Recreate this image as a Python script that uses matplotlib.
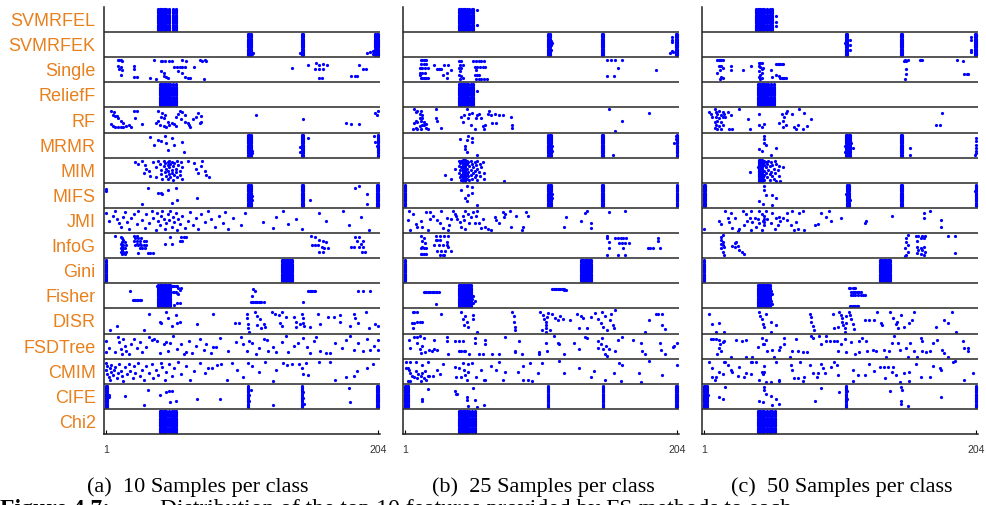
import matplotlib.pyplot as plt

methods = ["SVMRFEL", "SVMRFEK", "Single", "ReliefF", "RF", "MRMR", "MIM", "MIFS", "JMI",
           "InfoG", "Gini", "Fisher", "DISR", "FSDTree", "CMIM", "CIFE", "Chi2"]
n_runs = 20
n_features = 204
captions = ["(a)  10 Samples per class", "(b)  25 Samples per class", "(c)  50 Samples per class"]

# features picked in every run, per method
dense_10 = {
    "SVMRFEL": [40, 41, 42, 43, 44, 45, 46, 48, 51, 53],
    "SVMRFEK": [107, 108, 109, 147, 148, 202, 203, 204],
    "ReliefF": [41, 42, 43, 44, 45, 46, 47, 49, 51, 53],
    "MRMR": [107, 108, 109, 147, 148, 204],
    "MIFS": [107, 108, 109, 147, 148, 203, 204],
    "Gini": [1, 132, 133, 134, 135, 136, 137, 138, 139, 140],
    "Fisher": [40, 41, 42, 43, 44, 45, 46, 47, 48, 49],
    "CIFE": [1, 2, 107, 147, 203, 204],
    "Chi2": [41, 42, 43, 44, 45, 46, 48, 50, 52, 53],
}
dense_25 = {
    "SVMRFEL": [41, 42, 43, 44, 45, 46, 47, 49, 51, 52],
    "SVMRFEK": [108, 109, 148, 149, 203, 204],
    "ReliefF": [41, 42, 43, 44, 45, 46, 47, 48, 50, 52],
    "MRMR": [108, 109, 110, 148, 149, 204],
    "MIM": [44, 45, 46],
    "MIFS": [1, 108, 109, 110, 148, 149, 204],
    "Gini": [1, 132, 133, 134, 135, 136, 137, 138, 139, 140],
    "Fisher": [41, 42, 43, 44, 45, 46, 47, 48, 49, 50],
    "CIFE": [1, 2, 3, 108, 149, 203, 204],
    "Chi2": [41, 42, 43, 44, 45, 46, 47, 49, 51, 53],
}
dense_50 = {
    "SVMRFEL": [40, 41, 42, 43, 44, 45, 46, 48, 50, 52],
    "SVMRFEK": [107, 108, 148, 149, 203, 204],
    "ReliefF": [41, 42, 43, 44, 45, 46, 47, 49, 51, 53],
    "MRMR": [107, 108, 109, 110, 148, 149],
    "MIM": [42, 43, 44],
    "MIFS": [1, 2, 108, 109, 148, 149, 204],
    "Gini": [1, 132, 133, 134, 135, 136, 137, 138, 139, 140],
    "Fisher": [41, 42, 43, 44, 45, 46, 47, 48, 49, 50],
    "CIFE": [1, 2, 3, 107, 204],
    "Chi2": [41, 42, 43, 44, 45, 46, 48, 50, 52, 54],
}

# other (feature, run) picks
pts_10 = {
    "SVMRFEK": [(111, 3), (109, 2), (110, 2), (147, 2), (146, 3), (196, 3), (198, 4), (200, 5), (201, 3), (200, 2)],
    "Single": [(10, 19), (11, 19), (12, 19), (13, 18), (10, 14), (12, 13), (11, 11), (13, 10), (12, 6), (22, 14),
               (22, 11), (22, 4), (24, 4), (34, 3), (38, 2), (37, 19), (42, 18), (43, 18), (45, 18), (48, 18),
               (50, 18), (52, 13), (54, 13), (56, 13), (58, 13), (60, 13), (42, 9), (44, 8), (44, 5), (46, 4),
               (47, 3), (55, 9), (58, 8), (60, 4), (62, 3), (64, 3), (58, 19), (61, 18), (67, 13), (71, 19),
               (75, 19), (73, 18), (76, 18), (74, 2), (140, 12), (152, 15), (158, 17), (160, 15), (163, 16),
               (166, 15), (157, 11), (160, 11), (163, 11), (160, 3), (162, 3), (190, 15), (193, 11), (195, 11),
               (184, 5), (187, 5), (188, 5)],
    "RF": [(5, 19), (7, 18), (6, 15), (8, 14), (9, 14), (10, 12), (12, 10), (14, 8), (5, 7), (6, 5), (8, 4),
           (10, 4), (12, 4), (14, 4), (16, 5), (18, 6), (20, 4), (22, 19), (24, 19), (23, 12), (28, 7), (40, 19),
           (43, 17), (45, 15), (42, 13), (40, 10), (44, 12), (47, 9), (38, 8), (41, 6), (44, 5), (46, 4), (50, 8),
           (52, 7), (53, 5), (48, 6), (53, 13), (55, 16), (56, 19), (58, 18), (60, 15), (57, 11), (60, 9), (62, 8),
           (63, 6), (64, 4), (66, 11), (68, 13), (70, 17), (72, 14), (72, 9), (71, 8), (113, 15), (148, 11),
           (180, 8), (184, 7), (190, 7), (202, 17), (203, 15), (204, 19)],
    "MRMR": [(34, 18), (37, 11), (40, 15), (42, 14), (45, 19), (46, 12), (50, 17), (47, 6), (52, 11), (58, 13),
             (59, 4), (152, 17), (201, 19), (202, 13), (203, 10), (110, 3), (110, 5), (146, 4), (146, 9)],
    "MIM": [(23, 18), (25, 16), (28, 19), (30, 15), (31, 12), (29, 8), (33, 10), (34, 5), (36, 18), (38, 13),
            (38, 4), (40, 19), (41, 16), (42, 11), (42, 7), (43, 3), (44, 19), (44, 14), (45, 17), (45, 9),
            (46, 12), (46, 5), (47, 18), (47, 15), (47, 10), (47, 3), (48, 19), (48, 13), (48, 7), (49, 16),
            (49, 4), (50, 18), (50, 11), (50, 8), (51, 14), (51, 2), (52, 17), (52, 6), (53, 12), (53, 9),
            (54, 19), (54, 4), (55, 15), (56, 10), (56, 6), (57, 18), (58, 13), (58, 3), (62, 19), (67, 17),
            (68, 12), (70, 8), (72, 14), (73, 19), (75, 10), (76, 6), (78, 4)],
    "MIFS": [(1, 16), (1, 14), (32, 17), (40, 13), (42, 13), (43, 12), (47, 15), (50, 4), (54, 6), (53, 17),
             (28, 3), (69, 8), (153, 6), (187, 17), (190, 19), (196, 12), (196, 3), (110, 10), (110, 6)],
    "JMI": [(1, 17), (3, 10), (6, 15), (8, 19), (9, 12), (11, 8), (12, 5), (14, 14), (15, 18), (17, 9), (18, 3),
            (20, 13), (22, 16), (24, 7), (25, 19), (28, 11), (30, 4), (31, 16), (33, 8), (35, 19), (36, 13),
            (38, 2), (39, 17), (40, 10), (41, 6), (42, 15), (43, 19), (44, 12), (45, 3), (46, 8), (47, 16),
            (48, 11), (49, 19), (50, 5), (51, 14), (52, 9), (53, 17), (54, 2), (55, 12), (56, 7), (58, 15),
            (60, 4), (62, 10), (64, 18), (66, 6), (68, 13), (70, 3), (72, 16), (75, 9), (77, 19), (79, 12),
            (82, 5), (85, 15), (88, 8), (90, 18), (92, 3), (96, 13), (102, 6), (105, 17), (118, 9), (126, 4),
            (128, 14), (133, 19), (137, 7), (143, 12), (147, 3), (160, 17), (165, 10), (178, 19), (182, 6),
            (191, 14), (197, 2)],
    "InfoG": [(8, 19), (12, 18), (13, 17), (14, 16), (13, 14), (15, 14), (12, 12), (14, 11), (16, 11), (13, 10),
              (12, 8), (14, 8), (15, 8), (13, 7), (12, 5), (14, 5), (16, 5), (14, 4), (13, 3), (15, 3), (22, 19),
              (24, 19), (23, 17), (25, 17), (27, 17), (22, 15), (24, 15), (26, 15), (29, 15), (31, 15), (24, 12),
              (26, 12), (23, 11), (25, 11), (27, 11), (29, 11), (31, 11), (26, 8), (28, 8), (30, 8), (32, 4),
              (34, 4), (36, 4), (25, 4), (49, 18), (57, 18), (59, 18), (61, 18), (56, 15), (58, 15), (45, 12),
              (50, 12), (154, 19), (157, 18), (160, 16), (163, 15), (165, 14), (155, 11), (157, 11), (159, 11),
              (162, 9), (164, 8), (167, 8), (160, 5), (163, 5), (187, 18), (190, 18), (188, 15), (193, 15),
              (191, 12), (184, 9), (186, 9), (190, 9), (193, 9), (192, 5), (194, 5)],
    "Fisher": [(39, 19), (50, 19), (51, 19), (52, 19), (53, 19), (54, 19), (55, 18), (51, 14), (52, 14), (53, 14),
               (54, 13), (55, 12), (56, 16), (57, 18), (56, 4), (54, 4), (52, 2), (19, 15), (21, 7), (22, 7),
               (23, 7), (24, 7), (25, 7), (26, 7), (27, 7), (111, 17), (112, 15), (110, 10), (109, 5), (110, 5),
               (111, 5), (112, 5), (113, 5), (114, 5), (115, 5), (116, 5), (117, 5), (119, 5), (152, 15),
               (153, 15), (154, 15), (155, 15), (156, 15), (157, 15), (148, 5), (189, 15), (193, 15), (198, 15)],
    "DISR": [(33, 17), (41, 10), (42, 9), (46, 19), (47, 13), (53, 16), (54, 9), (50, 6), (56, 10), (9, 6),
             (4, 2), (29, 2), (69, 8), (81, 17), (97, 9), (100, 9), (106, 17), (106, 13), (107, 8), (107, 4),
             (108, 1), (112, 19), (114, 15), (116, 12), (119, 8), (120, 5), (114, 7), (117, 4), (125, 19),
             (127, 17), (130, 16), (132, 19), (135, 14), (131, 9), (132, 6), (141, 14), (143, 5), (147, 17),
             (148, 13), (148, 9), (143, 10), (146, 8), (149, 6), (153, 5), (159, 17), (161, 8), (167, 14),
             (171, 14), (176, 16), (176, 10), (183, 6), (186, 17), (187, 13), (189, 9), (195, 19), (197, 4),
             (202, 8), (204, 6)],
    "FSDTree": [(1, 15), (1, 5), (3, 9), (8, 5), (10, 19), (11, 14), (12, 8), (13, 3), (14, 17), (15, 11), (16, 6),
                (18, 3), (20, 12), (22, 17), (24, 9), (26, 14), (28, 5), (31, 10), (33, 19), (35, 16), (37, 17),
                (39, 15), (41, 4), (44, 12), (46, 14), (47, 6), (49, 13), (51, 20), (54, 8), (57, 12), (59, 3),
                (61, 5), (63, 15), (65, 4), (68, 11), (71, 17), (74, 7), (76, 12), (79, 4), (81, 10), (83, 10),
                (86, 18), (92, 6), (98, 14), (102, 19), (103, 12), (106, 6), (108, 15), (110, 13), (113, 3),
                (115, 9), (119, 17), (121, 16), (122, 6), (126, 10), (128, 5), (132, 14), (135, 20), (137, 5),
                (141, 11), (144, 13), (148, 18), (151, 10), (153, 4), (156, 15), (158, 19), (161, 6), (165, 4),
                (168, 4), (172, 13), (177, 9), (180, 16), (183, 20), (186, 7), (189, 13), (193, 6), (196, 17),
                (198, 7), (201, 11), (204, 16), (204, 7)],
    "CMIM": [(1, 18), (1, 12), (2, 15), (2, 8), (3, 5), (4, 13), (4, 3), (5, 10), (5, 16), (6, 7), (7, 12),
             (8, 14), (9, 4), (10, 9), (11, 17), (12, 11), (13, 6), (14, 2), (15, 14), (17, 8), (18, 17), (19, 11),
             (21, 4), (22, 15), (23, 9), (25, 18), (26, 6), (28, 12), (29, 3), (31, 15), (33, 9), (35, 17),
             (36, 4), (38, 12), (40, 7), (42, 18), (43, 14), (45, 3), (46, 10), (48, 17), (50, 6), (52, 13),
             (55, 19), (57, 8), (61, 15), (64, 3), (67, 11), (71, 18), (75, 9), (77, 13), (80, 13), (84, 16),
             (87, 17), (91, 3), (95, 18), (99, 12), (103, 5), (107, 18), (110, 15), (115, 10), (120, 19),
             (126, 2), (128, 12), (133, 18), (136, 16), (140, 17), (145, 17), (147, 13), (148, 8), (150, 18),
             (152, 7), (160, 19), (168, 19), (172, 3), (180, 5), (186, 6), (188, 11), (196, 13), (200, 17)],
    "CIFE": [(15, 11), (29, 3), (32, 16), (41, 12), (46, 14), (48, 15), (50, 15), (49, 5), (53, 6), (69, 8),
             (86, 8), (126, 3), (182, 18), (183, 5), (108, 12), (108, 6), (109, 16), (148, 14), (148, 9),
             (149, 4), (3, 10), (3, 12)],
}
pts_25 = {
    "SVMRFEL": [(55, 19), (55, 6)],
    "SVMRFEK": [(110, 10), (111, 12), (110, 14), (200, 17), (200, 15), (200, 13), (200, 5), (199, 3), (201, 4),
                (110, 6)],
    "Single": [(13, 19), (14, 19), (15, 19), (16, 19), (17, 19), (13, 16), (15, 16), (17, 16), (12, 12), (13, 12),
               (14, 12), (16, 12), (18, 12), (12, 8), (14, 8), (16, 8), (13, 3), (14, 3), (15, 3), (16, 3), (17, 3),
               (18, 3), (12, 6), (23, 15), (25, 11), (26, 11), (27, 11), (28, 11), (30, 15), (33, 15), (32, 8),
               (32, 3), (29, 6), (35, 10), (41, 18), (43, 18), (42, 15), (44, 15), (41, 12), (43, 12), (42, 9),
               (41, 6), (43, 5), (44, 3), (42, 2), (52, 18), (54, 18), (56, 18), (58, 18), (60, 18), (53, 13),
               (55, 13), (57, 13), (59, 13), (61, 13), (54, 10), (53, 6), (55, 6), (56, 6), (54, 2), (56, 2),
               (58, 2), (60, 2), (62, 2), (152, 19), (155, 19), (158, 19), (163, 19), (152, 5), (157, 5),
               (160, 12), (188, 10)],
    "ReliefF": [(55, 14)],
    "RF": [(8, 20), (9, 18), (10, 19), (12, 16), (13, 19), (14, 15), (12, 12), (9, 10), (8, 8), (10, 9), (13, 10),
           (15, 9), (17, 7), (14, 6), (12, 5), (9, 3), (7, 2), (10, 2), (13, 2), (17, 3), (18, 2), (15, 6), (14, 12),
           (24, 20), (24, 12), (25, 10), (28, 3), (43, 13), (44, 9), (45, 15), (47, 20), (48, 12), (49, 16),
           (50, 6), (51, 17), (53, 2), (54, 12), (55, 15), (56, 16), (58, 12), (59, 5), (60, 2), (61, 6), (63, 16),
           (64, 19), (65, 15), (66, 8), (68, 16), (69, 8), (71, 15), (74, 15), (80, 13), (81, 6), (81, 3),
           (153, 20), (163, 10), (158, 1), (183, 17)],
    "MRMR": [(42, 16), (47, 15), (48, 19), (46, 10), (47, 4), (46, 7), (51, 17), (51, 13), (55, 2), (156, 2),
             (203, 19), (203, 16), (202, 12), (111, 5), (111, 10)],
    "MIM": [(31, 6), (35, 3), (38, 12), (75, 1), (41, 19), (41, 14), (41, 8), (42, 17), (42, 11), (42, 4), (43, 19),
            (43, 13), (43, 6), (43, 2), (47, 19), (47, 16), (47, 12), (47, 7), (47, 3), (48, 18), (48, 9), (48, 5),
            (49, 14), (49, 2), (50, 19), (50, 11), (50, 6), (51, 16), (51, 3), (52, 13), (52, 8), (53, 18),
            (53, 10), (53, 4), (54, 15), (54, 6), (55, 19), (55, 12), (55, 2), (56, 9), (57, 16), (57, 5),
            (58, 13), (59, 18), (60, 8), (60, 3)],
    "MIFS": [(43, 15), (47, 19), (48, 11), (46, 8), (47, 5), (51, 18), (51, 13), (55, 2), (111, 12), (111, 8)],
    "JMI": [(4, 19), (7, 16), (3, 11), (5, 2), (9, 7), (10, 5), (13, 10), (14, 5), (17, 18), (18, 2), (20, 18),
            (20, 12), (22, 15), (25, 11), (27, 8), (28, 19), (29, 4), (32, 13), (33, 2), (34, 6), (35, 12),
            (37, 19), (38, 16), (39, 15), (40, 12), (42, 9), (43, 5), (44, 15), (45, 11), (46, 19), (46, 3),
            (48, 16), (49, 8), (50, 14), (52, 18), (53, 8), (54, 15), (55, 19), (56, 8), (58, 4), (59, 12),
            (61, 5), (63, 3), (65, 2), (68, 14), (69, 11), (71, 8), (74, 18), (75, 14), (76, 16), (79, 19),
            (80, 5), (84, 15), (88, 2), (89, 5), (91, 18), (93, 15), (120, 5), (121, 14), (132, 10), (135, 17),
            (137, 19), (140, 8), (140, 4), (153, 18), (165, 19)],
    "InfoG": [(13, 19), (14, 15), (14, 9), (15, 8), (17, 8), (13, 8), (14, 3), (13, 3), (15, 3), (17, 3), (16, 13),
              (15, 17), (24, 19), (27, 19), (30, 19), (33, 19), (24, 16), (25, 16), (27, 16), (23, 11), (26, 11),
              (29, 11), (32, 11), (32, 14), (33, 9), (25, 6), (28, 6), (31, 6), (35, 6), (27, 2), (29, 2), (30, 2),
              (152, 19), (152, 17), (153, 14), (153, 8), (152, 2), (158, 17), (160, 17), (162, 17), (164, 17),
              (166, 17), (161, 13), (163, 13), (165, 13), (168, 13), (164, 8), (160, 2), (165, 2), (190, 17),
              (190, 15), (182, 8), (184, 8), (186, 8), (191, 8)],
    "Fisher": [(15, 14), (16, 14), (17, 14), (18, 14), (19, 14), (20, 14), (21, 14), (22, 14), (23, 14), (24, 14),
               (25, 14), (26, 14), (24, 3), (111, 17), (112, 17), (113, 17), (114, 17), (115, 17), (116, 17),
               (117, 17), (118, 17), (119, 17), (120, 17), (121, 16), (120, 16), (51, 8), (52, 10), (53, 6),
               (52, 4)],
    "DISR": [(7, 19), (8, 19), (10, 19), (6, 9), (8, 9), (10, 10), (12, 10), (14, 10), (7, 4), (28, 17), (43, 19),
             (44, 12), (46, 15), (47, 10), (48, 5), (45, 7), (52, 16), (52, 12), (55, 1), (81, 19), (82, 15),
             (82, 10), (83, 5), (83, 2), (102, 19), (104, 16), (105, 12), (106, 10), (106, 7), (106, 4), (106, 1),
             (107, 14), (108, 18), (109, 2), (103, 2), (111, 17), (113, 13), (115, 11), (117, 15), (119, 12),
             (124, 11), (129, 17), (132, 15), (134, 13), (131, 4), (137, 4), (140, 14), (143, 18), (145, 12),
             (147, 9), (148, 19), (149, 5), (150, 15), (152, 2), (154, 11), (155, 17), (156, 7), (158, 20),
             (157, 4), (180, 1), (183, 11), (188, 17), (190, 17), (193, 17), (193, 7), (195, 3)],
    "FSDTree": [(4, 16), (5, 9), (8, 19), (10, 19), (12, 20), (15, 18), (10, 13), (12, 8), (14, 11), (16, 5),
                (13, 4), (19, 7), (21, 6), (23, 8), (25, 7), (23, 16), (32, 19), (32, 15), (33, 3), (38, 15),
                (41, 15), (44, 15), (41, 6), (43, 6), (45, 6), (46, 6), (49, 3), (53, 18), (53, 13), (56, 3),
                (59, 3), (61, 16), (61, 12), (66, 3), (71, 3), (76, 19), (83, 6), (83, 5), (86, 15), (88, 3),
                (101, 5), (101, 3), (106, 13), (107, 6), (112, 20), (115, 13), (116, 12), (120, 3), (127, 13),
                (131, 8), (135, 19), (137, 18), (145, 15), (145, 9), (147, 12), (149, 8), (151, 11), (153, 8),
                (148, 18), (150, 3), (152, 2), (158, 6), (160, 16), (163, 19), (171, 16), (177, 13), (178, 6),
                (180, 3), (191, 13), (192, 7), (195, 3), (201, 10), (202, 11), (204, 13)],
    "CMIM": [(2, 13), (3, 13), (4, 12), (5, 9), (6, 6), (8, 5), (9, 11), (10, 4), (11, 8), (13, 6), (14, 9),
             (15, 4), (16, 11), (18, 6), (19, 6), (22, 6), (2, 19), (5, 19), (9, 19), (14, 16), (18, 19), (3, 2),
             (5, 2), (13, 2), (17, 3), (25, 12), (27, 8), (29, 17), (38, 14), (39, 5), (41, 13), (43, 5), (44, 18),
             (45, 12), (46, 7), (47, 3), (48, 17), (48, 10), (51, 18), (54, 5), (58, 12), (60, 3), (61, 3),
             (65, 15), (69, 12), (71, 19), (74, 3), (76, 10), (85, 10), (89, 15), (89, 3), (93, 3), (94, 18),
             (96, 2), (100, 9), (103, 18), (116, 20), (120, 9), (131, 13), (140, 5), (142, 11), (150, 3), (157, 9),
             (161, 18), (163, 16), (162, 2), (176, 9), (177, 1), (183, 20), (193, 7), (204, 16)],
    "CIFE": [(14, 8), (14, 6), (18, 17), (38, 15), (39, 13), (40, 13), (47, 10), (47, 7), (48, 2), (52, 18),
             (53, 7), (55, 1), (60, 3), (149, 12), (149, 6)],
}
pts_50 = {
    "SVMRFEL": [(55, 14), (55, 8), (55, 5)],
    "SVMRFEK": [(110, 15), (110, 10), (110, 6), (200, 17), (200, 15), (200, 6), (200, 4), (106, 12)],
    "Single": [(11, 19), (12, 19), (13, 19), (14, 19), (15, 19), (12, 14), (13, 14), (14, 14), (13, 10), (15, 12),
               (11, 8), (14, 4), (15, 3), (13, 2), (21, 14), (21, 10), (30, 10), (36, 14), (42, 17), (43, 17),
               (44, 17), (42, 14), (43, 13), (44, 11), (42, 9), (44, 8), (43, 6), (42, 4), (44, 3), (43, 2),
               (45, 12), (51, 10), (55, 16), (56, 16), (57, 16), (58, 16), (59, 16), (60, 16), (55, 6), (57, 5),
               (58, 3), (59, 3), (60, 3), (61, 3), (62, 3), (52, 4), (150, 18), (151, 19), (152, 18), (153, 19),
               (162, 19), (163, 19), (164, 19), (152, 11), (152, 7), (151, 2), (190, 19), (194, 18), (195, 7),
               (197, 7), (198, 7)],
    "RF": [(5, 18), (6, 16), (9, 20), (10, 18), (11, 16), (12, 19), (14, 15), (15, 18), (16, 16), (17, 13),
           (19, 18), (7, 13), (10, 13), (12, 12), (15, 13), (9, 9), (11, 10), (14, 9), (10, 6), (12, 5), (15, 6),
           (9, 3), (11, 2), (14, 2), (21, 15), (20, 2), (22, 2), (27, 20), (34, 11), (35, 2), (42, 16), (42, 6),
           (44, 4), (46, 7), (57, 8), (59, 16), (60, 10), (61, 13), (62, 17), (63, 19), (62, 6), (60, 4), (67, 16),
           (68, 4), (70, 2), (71, 6), (72, 20), (75, 2), (76, 17), (78, 5), (81, 11), (179, 17), (174, 6),
           (177, 6)],
    "MRMR": [(46, 19), (46, 16), (46, 12), (47, 11), (42, 7), (44, 5), (51, 2), (55, 8), (155, 8), (155, 2),
             (204, 17), (204, 14), (204, 11), (204, 8), (204, 5), (204, 3), (203, 2), (111, 12), (112, 8),
             (106, 10), (106, 4)],
    "MIM": [(35, 9), (60, 13), (58, 1), (46, 19), (46, 15), (46, 10), (46, 6), (46, 2), (47, 18), (47, 13),
            (47, 8), (48, 16), (48, 4), (49, 19), (49, 11), (50, 14), (50, 7), (50, 2), (51, 18), (51, 9),
            (52, 15), (52, 5), (53, 12), (53, 3), (54, 19), (54, 8), (55, 16), (55, 1), (56, 11), (57, 14),
            (57, 5), (45, 17), (45, 4), (41, 13)],
    "MIFS": [(46, 19), (46, 15), (47, 11), (52, 11), (55, 8), (42, 5), (45, 3), (52, 2), (107, 12), (110, 6),
             (203, 14)],
    "JMI": [(1, 3), (12, 10), (14, 7), (17, 19), (19, 13), (20, 9), (21, 17), (22, 4), (24, 13), (26, 1), (27, 3),
            (30, 19), (31, 6), (32, 16), (33, 10), (35, 13), (36, 19), (36, 2), (37, 9), (39, 13), (40, 5),
            (41, 12), (42, 19), (42, 8), (44, 16), (44, 2), (45, 10), (46, 15), (46, 12), (46, 9), (46, 6),
            (47, 19), (48, 12), (51, 8), (52, 17), (54, 3), (55, 13), (56, 6), (57, 14), (58, 10), (60, 13),
            (63, 17), (63, 11), (66, 6), (67, 19), (68, 2), (70, 9), (71, 3), (72, 17), (75, 19), (76, 2), (84, 6),
            (86, 7), (88, 17), (92, 14), (94, 19), (96, 10), (103, 13), (121, 8), (122, 10), (141, 15), (165, 17),
            (165, 13), (170, 19), (178, 11), (178, 5)],
    "InfoG": [(15, 20), (14, 18), (14, 16), (15, 14), (14, 12), (15, 11), (16, 9), (14, 8), (15, 5), (16, 2),
              (22, 10), (24, 13), (25, 14), (26, 10), (27, 7), (29, 5), (31, 3), (24, 9), (153, 20), (152, 17),
              (152, 14), (153, 11), (151, 8), (153, 5), (152, 2), (151, 1), (159, 19), (161, 19), (164, 19),
              (166, 19), (163, 17), (165, 17), (160, 15), (160, 9), (163, 8), (165, 9), (161, 7), (164, 7),
              (166, 5), (160, 4), (163, 3), (165, 2), (183, 19), (188, 19), (188, 4)],
    "Fisher": [(109, 18), (110, 18), (112, 18), (113, 18), (114, 18), (111, 14), (112, 14), (113, 14), (114, 14),
               (115, 14), (116, 14), (117, 14), (118, 14), (111, 11), (112, 11), (114, 11), (116, 11), (118, 11),
               (120, 11), (121, 11), (110, 1), (111, 1), (112, 1), (113, 1), (114, 1), (115, 1), (116, 1),
               (51, 15), (52, 12), (51, 6), (52, 3)],
    "DISR": [(5, 17), (7, 8), (12, 9), (10, 1), (16, 1), (42, 19), (43, 15), (44, 12), (45, 8), (46, 5), (47, 17),
             (51, 10), (51, 1), (55, 7), (80, 17), (81, 14), (81, 10), (82, 6), (83, 2), (97, 17), (98, 4),
             (101, 5), (102, 19), (103, 16), (104, 13), (104, 10), (105, 7), (106, 4), (106, 1), (107, 15),
             (107, 9), (109, 19), (110, 16), (111, 12), (112, 8), (113, 3), (121, 11), (124, 11), (128, 11),
             (130, 19), (133, 9), (134, 7), (140, 19), (142, 13), (144, 8), (146, 4), (148, 16), (145, 10),
             (150, 5), (154, 9), (156, 11), (158, 19), (174, 5), (180, 11), (183, 9), (186, 19), (189, 1)],
    "FSDTree": [(6, 17), (8, 17), (10, 17), (12, 16), (13, 12), (12, 9), (14, 6), (15, 14), (11, 3), (16, 15),
                (21, 1), (25, 16), (29, 15), (32, 16), (32, 1), (37, 1), (41, 10), (44, 18), (45, 12), (46, 12),
                (47, 16), (48, 6), (52, 7), (53, 1), (57, 7), (58, 10), (61, 18), (61, 12), (65, 1), (67, 6),
                (70, 17), (71, 6), (75, 5), (78, 5), (81, 20), (82, 18), (87, 20), (88, 12), (92, 20), (92, 15),
                (95, 15), (98, 15), (100, 15), (101, 6), (103, 12), (106, 17), (107, 5), (111, 14), (114, 3),
                (117, 15), (117, 5), (119, 18), (122, 15), (123, 6), (127, 7), (129, 6), (135, 7), (137, 1),
                (139, 6), (141, 13), (143, 20), (146, 13), (147, 7), (152, 9), (153, 1), (155, 13), (158, 6),
                (160, 1), (163, 18), (164, 15), (164, 6), (167, 5), (170, 6), (172, 13), (175, 16), (179, 7),
                (180, 4), (183, 1), (194, 15), (195, 9), (198, 9), (198, 6)],
    "CMIM": [(5, 19), (7, 13), (7, 5), (9, 3), (10, 5), (12, 10), (15, 8), (16, 19), (17, 19), (19, 16), (21, 12),
             (22, 10), (26, 6), (27, 14), (31, 5), (32, 9), (36, 19), (37, 19), (36, 8), (40, 19), (42, 3),
             (44, 10), (45, 8), (46, 15), (46, 10), (47, 1), (51, 1), (55, 19), (57, 3), (57, 2), (66, 16),
             (67, 12), (68, 4), (71, 4), (73, 19), (75, 2), (76, 5), (80, 16), (82, 9), (85, 5), (86, 9), (88, 17),
             (90, 13), (91, 9), (96, 14), (98, 19), (100, 16), (101, 7), (112, 12), (112, 2), (116, 7), (121, 7),
             (124, 17), (128, 11), (132, 14), (135, 14), (138, 14), (142, 14), (136, 4), (141, 10), (144, 7),
             (147, 1), (150, 9), (154, 10), (154, 2), (159, 17), (163, 5), (170, 5), (172, 15), (177, 13),
             (178, 12), (187, 19), (188, 20), (195, 3), (202, 9)],
    "CIFE": [(12, 10), (15, 8), (17, 19), (42, 6), (45, 5), (46, 19), (46, 16), (47, 13), (51, 11), (52, 3),
             (55, 8), (57, 4), (84, 6), (88, 18), (102, 14), (140, 15), (148, 19), (149, 16), (148, 6), (148, 4),
             (153, 2), (178, 10), (108, 8), (108, 15), (4, 12)],
}

W, H = 987, 505
fig = plt.figure(figsize=(W / 100, H / 100), dpi=100)
panel_left = [104, 403, 702]
caption_x = [198, 543, 842]
n_rows = len(methods)

for j, (dense, pts) in enumerate([(dense_10, pts_10), (dense_25, pts_25), (dense_50, pts_50)]):
    ax = fig.add_axes([panel_left[j] / W, (H - 434) / H, 276 / W, 427 / H])
    for k, m in enumerate(methods):
        base = n_rows - 1 - k
        xs, rs = [], []
        for f in dense.get(m, []):
            for r in range(1, n_runs + 1):
                xs.append(f)
                rs.append(r)
        for f, r in pts.get(m, []):
            xs.append(f)
            rs.append(r)
        ys = [base + 0.08 + (r - 1) / (n_runs - 1) * 0.84 for r in rs]
        ax.plot(xs, ys, "o", color="#0000ff", ms=2.3, mew=0, ls="none")
    for y in range(1, n_rows):
        ax.axhline(y, color="#3a3a3a", lw=1.2)
    ax.set_xlim(-0.5, n_features + 1.5)
    ax.set_ylim(0, n_rows)
    for s in ["top", "right"]:
        ax.spines[s].set_visible(False)
    for s in ["left", "bottom"]:
        ax.spines[s].set_color("#222222")
        ax.spines[s].set_linewidth(1.1)
    ax.set_xticks([1, n_features])
    ax.set_xticklabels(["1", str(n_features)], fontsize=7.5, family="Liberation Sans", color="#333333")
    ax.tick_params(axis="x", direction="in", length=3, width=0.8, pad=8)
    if j == 0:
        ax.set_yticks([n_rows - 0.5 - k for k in range(n_rows)])
        ax.set_yticklabels(methods, fontsize=13, family="Liberation Sans", color="#e8801e")
        ax.tick_params(axis="y", length=0, pad=6)
    else:
        ax.set_yticks([])
    fig.text(caption_x[j] / W, 1 - 492 / H, captions[j], ha="center", va="baseline",
             fontsize=16, family="Liberation Serif")

# figure caption, cut off by the bottom edge as in the source page
fig.text(0.0, 1 - 515 / H, "Figure 4.7:", ha="left", va="baseline", fontsize=17,
         family="Liberation Serif", fontweight="bold")
fig.text(160 / W, 1 - 515 / H, "Distribution of the top 10 features provided by FS methods to each",
         ha="left", va="baseline", fontsize=17, family="Liberation Serif")

fig.savefig("out.png", dpi=100)
